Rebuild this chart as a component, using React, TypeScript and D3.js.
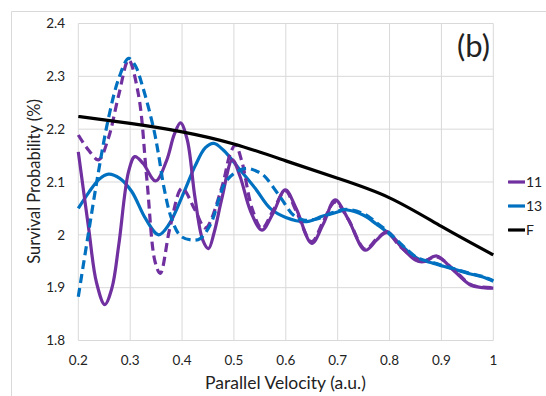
import React from "react";
import * as d3 from "d3";

const xTicks = [0.2, 0.3, 0.4, 0.5, 0.6, 0.7, 0.8, 0.9, 1];
const yTicks = [1.8, 1.9, 2.0, 2.1, 2.2, 2.3, 2.4];

const s11Solid: [number, number][] = [
  [0.2, 2.157], [0.22, 2.012], [0.235, 1.91], [0.251, 1.868], [0.265, 1.9], [0.278, 1.981],
  [0.297, 2.12], [0.309, 2.148], [0.325, 2.135], [0.349, 2.102], [0.37, 2.14], [0.385, 2.19],
  [0.397, 2.212], [0.41, 2.18], [0.425, 2.07], [0.44, 1.99], [0.451, 1.974], [0.462, 2.005],
  [0.477, 2.07], [0.497, 2.142], [0.512, 2.11], [0.532, 2.045], [0.554, 2.009], [0.575, 2.04],
  [0.599, 2.085], [0.62, 2.05], [0.65, 1.984], [0.672, 2.02], [0.695, 2.066], [0.72, 2.03],
  [0.753, 1.971], [0.775, 1.99], [0.795, 2.006], [0.82, 1.98], [0.85, 1.952], [0.865, 1.949],
  [0.891, 1.96], [0.923, 1.933], [0.956, 1.905], [0.98, 1.9], [1.0, 1.899],
];

const s11Dashed: [number, number][] = [
  [0.2, 2.189], [0.22, 2.16], [0.239, 2.142], [0.258, 2.183], [0.278, 2.265], [0.297, 2.331],
  [0.316, 2.265], [0.332, 2.107], [0.348, 1.949], [0.358, 1.927], [0.377, 2.015], [0.4, 2.088],
  [0.425, 2.047], [0.445, 2.013], [0.477, 2.091], [0.493, 2.154], [0.503, 2.17], [0.515, 2.14],
  [0.535, 2.05], [0.554, 2.012], [0.575, 2.045], [0.599, 2.083], [0.62, 2.045], [0.65, 1.987],
  [0.672, 2.025], [0.695, 2.062], [0.72, 2.03], [0.753, 1.973], [0.775, 1.992], [0.795, 2.004],
  [0.82, 1.978], [0.85, 1.955], [0.865, 1.95], [0.891, 1.958], [0.923, 1.935], [0.956, 1.906],
  [0.98, 1.901], [1.0, 1.9],
];

const s13Solid: [number, number][] = [
  [0.2, 2.05], [0.22, 2.08], [0.24, 2.105], [0.258, 2.115], [0.28, 2.107], [0.303, 2.082],
  [0.33, 2.03], [0.355, 2.0], [0.375, 2.02], [0.403, 2.079], [0.425, 2.13], [0.445, 2.165],
  [0.461, 2.173], [0.48, 2.16], [0.51, 2.125], [0.541, 2.088], [0.57, 2.05], [0.6, 2.033],
  [0.64, 2.025], [0.67, 2.035], [0.692, 2.041], [0.718, 2.047], [0.75, 2.037], [0.775, 2.02],
  [0.798, 2.003], [0.825, 1.978], [0.853, 1.956], [0.885, 1.946], [0.917, 1.937], [0.956, 1.926],
  [0.98, 1.92], [1.0, 1.912],
];

const s13Dashed: [number, number][] = [
  [0.2, 1.883], [0.22, 2.006], [0.239, 2.12], [0.258, 2.22], [0.278, 2.296], [0.297, 2.334],
  [0.31, 2.32], [0.323, 2.284], [0.345, 2.202], [0.355, 2.15], [0.365, 2.09], [0.38, 2.03],
  [0.397, 1.998], [0.42, 1.99], [0.435, 1.993], [0.455, 2.02], [0.483, 2.098], [0.506, 2.12],
  [0.525, 2.126], [0.545, 2.12], [0.557, 2.113], [0.589, 2.072], [0.615, 2.037], [0.634, 2.028],
  [0.66, 2.03], [0.69, 2.042], [0.718, 2.048], [0.75, 2.04], [0.775, 2.023], [0.798, 2.005],
  [0.825, 1.98], [0.853, 1.957], [0.885, 1.947], [0.917, 1.938], [0.956, 1.927], [0.98, 1.921],
  [1.0, 1.913],
];

const sF: [number, number][] = [
  [0.2, 2.224], [0.3, 2.211], [0.4, 2.195], [0.5, 2.172], [0.6, 2.14], [0.7, 2.107],
  [0.8, 2.07], [0.9, 2.016], [1.0, 1.962],
];

const legendItems = [
  { label: "11", color: "#7030A0" },
  { label: "13", color: "#0070C0" },
  { label: "F", color: "#000000" },
];

const FONT = "Lato, 'Open Sans', sans-serif";

export default function App() {
  const W = 546, H = 396;
  const x = d3.scaleLinear().domain([0.2, 1]).range([78.3, 493.3]);
  const y = d3.scaleLinear().domain([1.8, 2.4]).range([340.5, 23.5]);
  const line = d3
    .line<[number, number]>()
    .x((d) => x(d[0]))
    .y((d) => y(d[1]))
    .curve(d3.curveCatmullRom.alpha(0.5));
  const smooth = d3
    .line<[number, number]>()
    .x((d) => x(d[0]))
    .y((d) => y(d[1]))
    .curve(d3.curveNatural);

  const series = [
    { data: s13Solid, color: "#0070C0", dash: undefined, gen: line },
    { data: s11Solid, color: "#7030A0", dash: undefined, gen: line },
    { data: s11Dashed, color: "#7030A0", dash: "9,5", gen: line },
    { data: s13Dashed, color: "#0070C0", dash: "9,5", gen: line },
    { data: sF, color: "#000000", dash: undefined, gen: smooth },
  ];

  return (
    <svg width={W} height={H} style={{ position: "absolute", left: 0, top: 0, background: "#fff" }}>
      <rect x={0} y={0} width={W} height={H} fill="#fff" />
      <path d={`M11.5,${H} L11.5,11.5 L${W},11.5`} fill="none" stroke="#d9d9d9" strokeWidth={1} />
      {xTicks.map((t) => (
        <line key={"gx" + t} x1={x(t)} x2={x(t)} y1={y(2.4)} y2={y(1.8)} stroke="#d9d9d9" strokeWidth={1} />
      ))}
      {yTicks.map((t) => (
        <line key={"gy" + t} x1={x(0.2)} x2={x(1)} y1={y(t)} y2={y(t)} stroke="#d9d9d9" strokeWidth={1} />
      ))}
      {yTicks.map((t) => (
        <text key={"ty" + t} x={65} y={y(t)} dy="0.35em" textAnchor="end" fontFamily={FONT} fontSize={13.5} fill="#222">
          {d3.format("~g")(t)}
        </text>
      ))}
      {xTicks.map((t) => (
        <text key={"tx" + t} x={x(t)} y={360} dy="0.35em" textAnchor="middle" fontFamily={FONT} fontSize={13.5} fill="#222">
          {d3.format("~g")(t)}
        </text>
      ))}
      <g>
        {series.map((s, i) => (
          <path key={i} d={s.gen(s.data) || ""} fill="none" stroke={s.color} strokeWidth={3.2}
            strokeDasharray={s.dash} strokeLinejoin="round" />
        ))}
      </g>
      <text x={490} y={57} textAnchor="end" fontFamily={FONT} fontSize={31} fill="#222">(b)</text>
      <text x={285.5} y={382.5} dy="0.35em" textAnchor="middle" fontFamily={FONT} fontSize={17.5} fill="#222">
        Parallel Velocity (a.u.)
      </text>
      <text transform={`translate(34,181.5) rotate(-90)`} dy="0.35em" textAnchor="middle" fontFamily={FONT} fontSize={16.5} fill="#222">
        Survival Probability (%)
      </text>
      {legendItems.map((it, i) => (
        <g key={it.label} transform={`translate(0,${182 + i * 24})`}>
          <line x1={508} x2={525} y1={0} y2={0} stroke={it.color} strokeWidth={3.2} />
          <text x={526} y={0} dy="0.35em" fontFamily={FONT} fontSize={14} fill="#222">{it.label}</text>
        </g>
      ))}
    </svg>
  );
}
